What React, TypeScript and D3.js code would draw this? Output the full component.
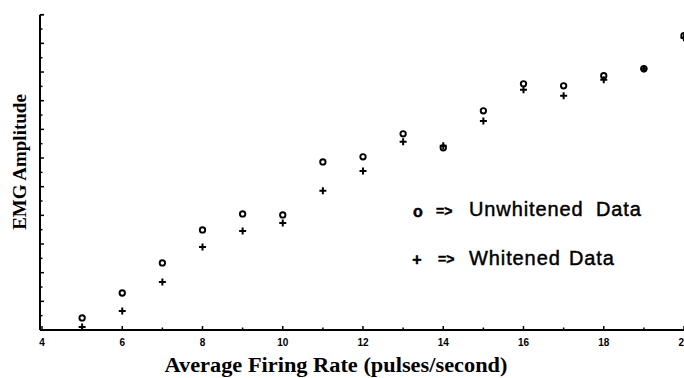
import React from "react";
import * as d3 from "d3";

const rates = [5, 6, 7, 8, 9, 10, 11, 12, 13, 14, 15, 16, 17, 18, 19, 20];
const unwhitened = [0.84, 2.58, 4.68, 6.98, 8.1, 8.03, 11.73, 12.08, 13.69, 12.71, 15.29, 17.18, 17.04, 17.74, 18.23, 20.53];
const whitened = [0.21, 1.33, 3.35, 5.8, 6.91, 7.47, 9.71, 11.1, 13.13, 12.85, 14.59, 16.76, 16.34, 17.46, 18.23, 20.39];
const xTickValues = [4, 6, 8, 10, 12, 14, 16, 18, 20];
const xMinorValues = [5, 7, 9, 11, 13, 15, 17, 19];
const yTickValues = d3.range(0, 23);

const W = 684;
const H = 378;

const App = () => {
  const x = d3.scaleLinear().domain([4, 20]).range([42, 684]);
  const y = d3.scaleLinear().domain([0, 22]).range([330, 14.7]);
  const x0 = 40;
  const y0 = y(0);

  return (
    <svg
      width={W}
      height={H}
      style={{ position: "absolute", left: 0, top: 0, background: "#fff" }}
    >
      {/* axes */}
      <line x1={x0} x2={W} y1={y0} y2={y0} stroke="#000" strokeWidth={2} />
      <line x1={x0} x2={x0} y1={y(22)} y2={y0} stroke="#000" strokeWidth={2} />
      <line x1={x0} x2={x0 + 4} y1={y(22)} y2={y(22)} stroke="#000" strokeWidth={1.5} />

      {yTickValues.map((v) => (
        <line
          key={"yt" + v}
          x1={x0}
          x2={x0 + (v % 2 === 0 ? 4 : 2.5)}
          y1={y(v)}
          y2={y(v)}
          stroke="#000"
          strokeWidth={1.5}
        />
      ))}

      {xTickValues.map((v) => (
        <g key={"xt" + v}>
          <line x1={x(v)} x2={x(v)} y1={y0} y2={y0 - 4} stroke="#000" strokeWidth={1.5} />
          <text
            x={x(v)}
            y={y0 + 16}
            textAnchor="middle"
            fontFamily="Liberation Sans, Arial, sans-serif"
            fontWeight="bold"
            fontSize={10}
          >
            {v}
          </text>
        </g>
      ))}
      {xMinorValues.map((v) => (
        <line key={"xm" + v} x1={x(v)} x2={x(v)} y1={y0} y2={y0 - 2.5} stroke="#000" strokeWidth={1.5} />
      ))}

      {/* data */}
      {rates.map((r, i) => (
        <circle
          key={"u" + r}
          cx={x(r)}
          cy={y(unwhitened[i])}
          r={2.7}
          fill="none"
          stroke="#000"
          strokeWidth={1.9}
        />
      ))}
      {rates.map((r, i) => (
        <path
          key={"w" + r}
          d={`M${x(r) - 3.5},${y(whitened[i])}h7M${x(r)},${y(whitened[i]) - 3.5}v7`}
          stroke="#000"
          strokeWidth={2}
        />
      ))}

      {/* legend */}
      <g fontFamily="Liberation Sans, Arial, sans-serif" fill="#000" stroke="#000" strokeWidth={0.45}>
        <text x={418} y={217} textAnchor="middle" fontSize={16} fontWeight="bold">o</text>
        <text x={436} y={216} fontSize={14} fontWeight="bold">=&gt;</text>
        <text x={469} y={216} fontSize={20} letterSpacing={0.9}>Unwhitened</text>
        <text x={596} y={216} fontSize={20} letterSpacing={0.9}>Data</text>
        <text x={417} y={265} textAnchor="middle" fontSize={16} fontWeight="bold">+</text>
        <text x={438} y={264} fontSize={14} fontWeight="bold">=&gt;</text>
        <text x={469} y={265} fontSize={20} letterSpacing={0.9}>Whitened</text>
        <text x={569} y={265} fontSize={20} letterSpacing={0.9}>Data</text>
      </g>

      {/* axis titles */}
      <text
        x={336}
        y={372}
        textAnchor="middle"
        fontFamily="Liberation Serif, Times New Roman, serif"
        fontWeight="bold"
        fontSize={20}
        textLength={343}
        lengthAdjust="spacingAndGlyphs"
      >
        Average Firing Rate (pulses/second)
      </text>
      <text
        transform="translate(26,162) rotate(-90)"
        textAnchor="middle"
        fontFamily="Liberation Serif, Times New Roman, serif"
        fontWeight="bold"
        fontSize={19}
      >
        EMG Amplitude
      </text>
    </svg>
  );
};

export default App;
